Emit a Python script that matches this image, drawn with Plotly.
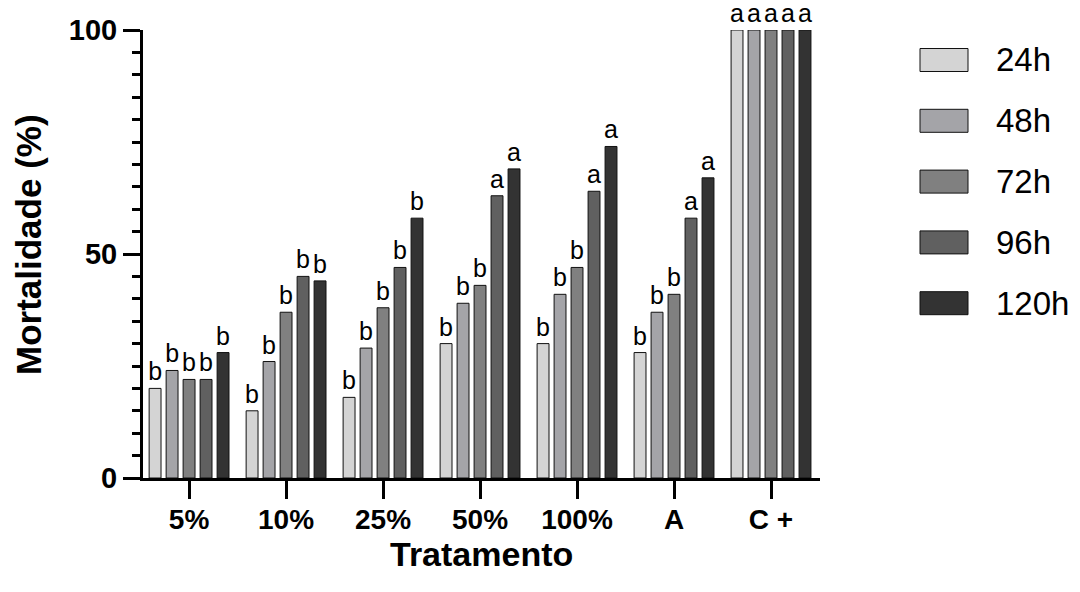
import plotly.graph_objects as go

# Mortality (%) per treatment and exposure time
tratamentos = ["5%", "10%", "25%", "50%", "100%", "A", "C +"]
tempos = ["24h", "48h", "72h", "96h", "120h"]

mort_24h = [20, 15, 18, 30, 30, 28, 100]
mort_48h = [24, 26, 29, 39, 41, 37, 100]
mort_72h = [22, 37, 38, 43, 47, 41, 100]
mort_96h = [22, 45, 47, 63, 64, 58, 100]
mort_120h = [28, 44, 58, 69, 74, 67, 100]

# Significance letters over each bar
letras_24h = ["b", "b", "b", "b", "b", "b", "a"]
letras_48h = ["b", "b", "b", "b", "b", "b", "a"]
letras_72h = ["b", "b", "b", "b", "b", "b", "a"]
letras_96h = ["b", "b", "b", "a", "a", "a", "a"]
letras_120h = ["b", "b", "b", "a", "a", "a", "a"]

cores = ["#d4d4d4", "#a4a4a8", "#808080", "#606060", "#333333"]

series = [mort_24h, mort_48h, mort_72h, mort_96h, mort_120h]
letras = [letras_24h, letras_48h, letras_72h, letras_96h, letras_120h]

FONT = "Liberation Sans, Arial, Helvetica, sans-serif"

W, H = 1080, 592
L, R, T, B = 143, 260, 30, 114
PW, PH = W - L - R, H - T - B


def px_x(x):
    return (x - L) / PW


def px_y(y):
    return (H - B - y) / PH


fig = go.Figure()
for nome, vals, txt, cor in zip(tempos, series, letras, cores):
    fig.add_trace(go.Bar(
        x=tratamentos, y=vals, name=nome,
        marker=dict(color=cor, line=dict(color="#111111", width=1)),
        text=txt, textposition="outside", constraintext="none",
        textfont=dict(family=FONT, size=25, color="black"),
        cliponaxis=False, showlegend=False,
    ))

shapes = []
annotations = []
# Legend swatches and labels
for i, (nome, cor) in enumerate(zip(tempos, cores)):
    cy = 60 + i * 60.8
    shapes.append(dict(
        type="rect", xref="paper", yref="paper",
        x0=px_x(920), x1=px_x(968), y0=px_y(cy + 11.5), y1=px_y(cy - 11.5),
        fillcolor=cor, line=dict(color="#111111", width=1),
    ))
    annotations.append(dict(
        xref="paper", yref="paper", x=px_x(994), y=px_y(cy),
        xanchor="left", yanchor="middle", showarrow=False,
        text=nome, font=dict(family=FONT, size=33, color="black"),
    ))

# Axis titles
annotations.append(dict(
    xref="paper", yref="paper", x=0.5, y=px_y(554),
    xanchor="center", yanchor="middle", showarrow=False,
    text="Tratamento", font=dict(family=FONT, size=34, color="black", weight="bold"),
))
annotations.append(dict(
    xref="paper", yref="paper", x=px_x(28), y=px_y(245),
    xanchor="center", yanchor="middle", showarrow=False, textangle=-90,
    text="Mortalidade (%)", font=dict(family=FONT, size=35, color="black", weight="bold"),
))

fig.update_layout(
    width=W, height=H,
    margin=dict(l=L, r=R, t=T, b=B, pad=0),
    paper_bgcolor="white", plot_bgcolor="white",
    barmode="group", bargap=0.124, bargroupgap=0.3,
    shapes=shapes, annotations=annotations,
    xaxis=dict(
        type="category", range=[-0.475, 6.505],
        showline=True, linecolor="black", linewidth=3,
        ticks="outside", ticklen=18, tickwidth=3, tickcolor="black",
        tickfont=dict(family=FONT, size=28, color="black", weight="bold"),
        ticklabelstandoff=-4,
        showgrid=False, zeroline=False, fixedrange=True,
    ),
    yaxis=dict(
        range=[0, 100], tickvals=[0, 50, 100],
        showline=True, linecolor="black", linewidth=3,
        ticks="outside", ticklen=17, tickwidth=3, tickcolor="black",
        tickfont=dict(family=FONT, size=29, color="black", weight="bold"),
        minor=dict(dtick=5, ticks="outside", ticklen=8, tickwidth=3, tickcolor="black", showgrid=False),
        showgrid=False, zeroline=False, fixedrange=True,
    ),
)

fig.write_html("out.html")
